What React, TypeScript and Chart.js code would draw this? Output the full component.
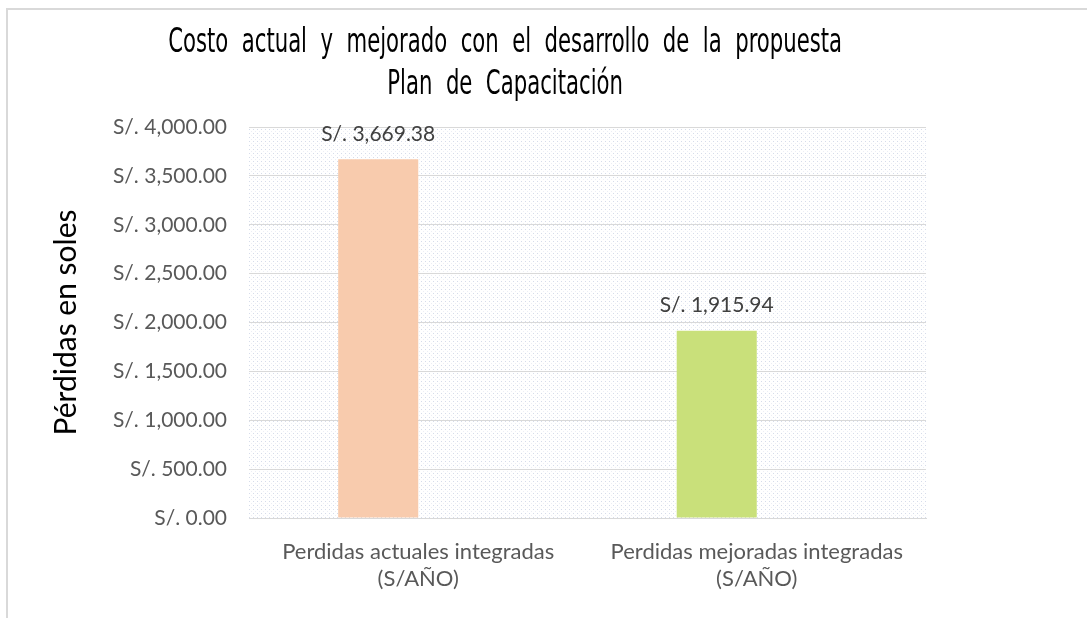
import React, { useEffect, useRef } from "react";
import { Chart, registerables } from "chart.js";

Chart.register(...registerables);

const categories: string[][] = [
  ["Perdidas actuales integradas", "(S/AÑO)"],
  ["Perdidas mejoradas integradas", "(S/AÑO)"],
];
const lossValues: number[] = [3669.38, 1915.94];
const barColors: string[] = ["#F8CBAD", "#C9E07A"];
const emptySeries: (number | null)[] = [null, null];
const titleLines: string[] = [
  "Costo  actual  y  mejorado  con  el  desarrollo  de  la  propuesta",
  "Plan  de  Capacitación",
];
const yAxisTitle = "Pérdidas en soles";
const yMin = 0;
const yMax = 4000;
const yStep = 500;

const fmt = (v: number) =>
  "S/. " +
  Number(v).toLocaleString("en-US", {
    minimumFractionDigits: 2,
    maximumFractionDigits: 2,
  });

function makePattern(ctx: CanvasRenderingContext2D) {
  const c = document.createElement("canvas");
  c.width = 4;
  c.height = 4;
  const p = c.getContext("2d")!;
  p.fillStyle = "#ffffff";
  p.fillRect(0, 0, 4, 4);
  p.fillStyle = "#d6dcea";
  p.fillRect(1, 1, 1, 1);
  p.fillStyle = "#eceef5";
  p.fillRect(3, 3, 1, 1);
  return ctx.createPattern(c, "repeat");
}

const framePlugin = {
  id: "frame",
  beforeDraw(chart: any) {
    const { ctx, chartArea } = chart;
    ctx.save();
    ctx.fillStyle = "#ffffff";
    ctx.fillRect(0, 0, chart.width, chart.height);
    ctx.strokeStyle = "#d9d9d9";
    ctx.lineWidth = 2;
    ctx.beginPath();
    ctx.moveTo(7, chart.height);
    ctx.lineTo(7, 9);
    ctx.lineTo(chart.width, 9);
    ctx.stroke();
    const pat = makePattern(ctx);
    if (pat) {
      ctx.fillStyle = pat;
      ctx.fillRect(
        chartArea.left,
        chartArea.top,
        chartArea.right - chartArea.left,
        chartArea.bottom - chartArea.top
      );
    }
    ctx.restore();
  },
};

const titlePlugin = {
  id: "customTitle",
  afterDraw(chart: any) {
    const { ctx } = chart;
    ctx.save();
    ctx.fillStyle = "#000000";
    ctx.textAlign = "center";
    ctx.textBaseline = "middle";
    ctx.font = '34px "Liberation Sans Narrow", "DejaVu Sans Condensed", "DejaVu Sans", sans-serif';
    const cx = chart.width * 0.4647;
    const targetW = chart.width * 0.62;
    const w = ctx.measureText(titleLines[0]).width || targetW;
    const sx = Math.min(1, targetW / w);
    titleLines.forEach((line, i) => {
      ctx.save();
      ctx.translate(cx, 43 + i * 42);
      ctx.scale(sx, 1);
      ctx.fillText(line, 0, 0);
      ctx.restore();
    });
    ctx.restore();
  },
};

const labelPlugin = {
  id: "valueLabels",
  afterDatasetsDraw(chart: any) {
    const { ctx } = chart;
    const meta = chart.getDatasetMeta(0);
    ctx.save();
    ctx.fillStyle = "#404040";
    ctx.font = '21px "Lato", sans-serif';
    ctx.textAlign = "center";
    ctx.textBaseline = "middle";
    meta.data.forEach((bar: any, i: number) => {
      const v = lossValues[i];
      if (v == null) return;
      ctx.fillText(fmt(v), bar.x, bar.y - 25);
    });
    ctx.restore();
  },
};

export default function App() {
  const ref = useRef<HTMLCanvasElement | null>(null);

  useEffect(() => {
    document.body.style.margin = "0";
    if (!ref.current) return;
    const chart = new Chart(ref.current, {
      type: "bar",
      data: {
        labels: categories,
        datasets: [
          {
            label: "Pérdidas",
            data: lossValues,
            backgroundColor: barColors,
            borderWidth: 0,
          },
          {
            label: "vacío",
            data: emptySeries,
            backgroundColor: "#ffffff",
            borderWidth: 0,
          },
        ],
      },
      options: {
        animation: false,
        responsive: false,
        maintainAspectRatio: false,
        layout: { padding: { left: 0, right: 161, top: 127, bottom: 0 } },
        datasets: {
          bar: { categoryPercentage: 0.473, barPercentage: 1 },
        },
        plugins: {
          legend: { display: false },
          title: { display: false },
          tooltip: { enabled: false },
        },
        scales: {
          x: {
            afterFit(scale: any) {
              scale.height = 100;
            },
            grid: { display: false, drawTicks: false },
            border: { display: true, color: "#d9d9d9", width: 1 },
            ticks: {
              color: "#595959",
              font: { family: "Lato", size: 22, lineHeight: 1.23 },
              padding: 20,
              maxRotation: 0,
              autoSkip: false,
            },
          },
          y: {
            min: yMin,
            max: yMax,
            afterFit(scale: any) {
              scale.width = 249;
            },
            grid: { color: "#d9d9d9", lineWidth: 1, drawTicks: false },
            border: { display: false },
            ticks: {
              stepSize: yStep,
              color: "#595959",
              font: { family: "Lato", size: 21 },
              padding: 22,
              callback: (v: any) => fmt(Number(v)),
            },
            title: {
              display: true,
              text: yAxisTitle,
              color: "#000000",
              font: { family: "Lato", size: 30 },
              padding: { top: 48, bottom: 0 },
            },
          },
        },
      },
      plugins: [framePlugin, titlePlugin, labelPlugin],
    });
    return () => chart.destroy();
  }, []);

  return (
    <div style={{ width: 1087, height: 618, position: "relative" }}>
      <canvas ref={ref} width={1087} height={618} style={{ display: "block" }} />
    </div>
  );
}
